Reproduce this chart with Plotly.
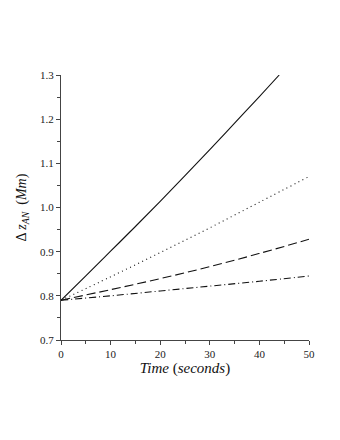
import plotly.graph_objects as go

# time samples (s)
t_solid = [0, 5, 10, 15, 20, 25, 30, 35, 40, 44]
t_other = [0, 10, 20, 30, 40, 50]

# delta z_AN (Mm)
z_solid = [0.79, 0.845, 0.901, 0.957, 1.014, 1.072, 1.131, 1.191, 1.251, 1.30]
z_dot = [0.79, 0.843, 0.898, 0.954, 1.012, 1.07]
z_dash = [0.79, 0.814, 0.839, 0.866, 0.896, 0.928]
z_dashdot = [0.79, 0.800, 0.811, 0.822, 0.833, 0.845]

black = "#111111"
fig = go.Figure()
fig.add_trace(go.Scatter(x=t_solid, y=z_solid, mode="lines", line=dict(color=black, width=1.1, shape="spline")))
fig.add_trace(go.Scatter(x=t_other, y=z_dot, mode="lines", line=dict(color=black, width=1.1, dash="1px,3.5px", shape="spline")))
fig.add_trace(go.Scatter(x=t_other, y=z_dash, mode="lines", line=dict(color=black, width=1.1, dash="9px,4px", shape="spline")))
fig.add_trace(go.Scatter(x=t_other, y=z_dashdot, mode="lines", line=dict(color=black, width=1.1, dash="7px,3px,1px,3px", shape="spline")))

axis_common = dict(
    showline=True, linecolor="#444", linewidth=1, showgrid=False, zeroline=False,
    ticks="outside", ticklen=4, tickcolor="#444", mirror=False,
    tickfont=dict(family="Liberation Serif", size=11, color="#222"),
)

fig.update_layout(
    width=340, height=440,
    margin=dict(l=49, r=39, t=67, b=108),
    paper_bgcolor="white", plot_bgcolor="white",
    showlegend=False,
    font=dict(family="Liberation Serif", color="#111"),
    xaxis=dict(
        range=[0, 50], tickvals=[0, 10, 20, 30, 40, 50], ticktext=["0", "10", "20", "30", "40", "50"],
        minor=dict(dtick=5, tick0=0, ticks="outside", ticklen=3, tickcolor="#444"),
        title=dict(text="<i>Time</i> (<i>seconds</i>)", font=dict(size=15), standoff=0),
        **axis_common,
    ),
    yaxis=dict(
        range=[0.7, 1.3], tickvals=[0.7, 0.8, 0.9, 1.0, 1.1, 1.2, 1.3],
        ticktext=["0.7", "0.8", "0.9", "1.0", "1.1", "1.2", "1.3"],
        minor=dict(dtick=0.05, tick0=0.7, ticks="outside", ticklen=3, tickcolor="#444"),
        title=dict(text="Δ <i>z</i><sub><i>AN</i></sub>  (<i>Mm</i>)", font=dict(size=14), standoff=10),
        **axis_common,
    ),
)

fig.write_html("out.html")
